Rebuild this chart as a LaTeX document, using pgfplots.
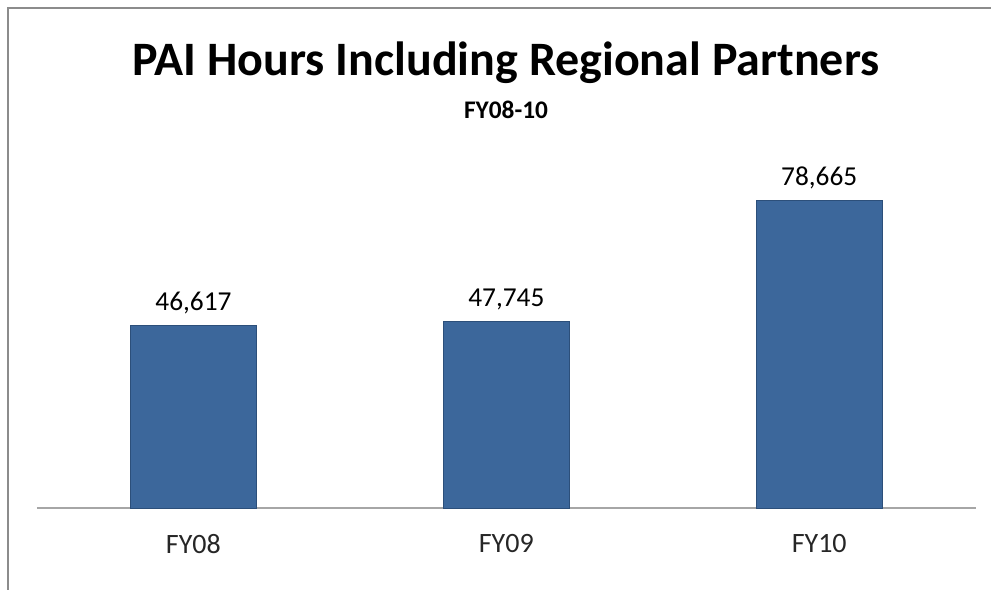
\documentclass[border=0pt]{standalone}
\usepackage{pgfplots}
\pgfplotsset{compat=1.18}
\usepackage{fontspec}
\setmainfont{Carlito}
\definecolor{barfill}{HTML}{3C679B}
\definecolor{baredge}{HTML}{2C4F7A}
\definecolor{framegray}{HTML}{8C8C8C}
\definecolor{axisgray}{HTML}{A6A6A6}

% picture is 991 x 589 px, 1 px = 0.75pt
\begin{document}
\begin{tikzpicture}
  \useasboundingbox (0,0) rectangle (743.25pt,441.75pt);
  % chart frame (only top and left edges are in view)
  \draw[framegray, line width=1.5pt] (6pt,-50pt) -- (6pt,435.75pt) -- (800pt,435.75pt);
  \node[font=\bfseries\fontsize{36}{40}\selectfont, anchor=center] at (379.5pt,394.5pt) {PAI Hours Including Regional Partners};
  \node[font=\bfseries\fontsize{19}{22}\selectfont, anchor=center] at (379.5pt,359.25pt) {FY08-10};
  \begin{axis}[
    at={(27.75pt,60.75pt)}, anchor=south west, scale only axis,
    width=704pt, height=264pt,
    ybar, bar width=94pt,
    xmin=-0.5, xmax=2.5, ymin=0, ymax=90000,
    xtick=data, xticklabels={FY08, FY09, FY10},
    ytick=\empty, major tick length=0pt,
    axis x line*=bottom, axis y line=none,
    x axis line style={axisgray, line width=0.9pt, -},
    tick label style={font=\fontsize{21}{24}\selectfont, text=black!85},
    xticklabel style={yshift=-16pt},
    nodes near coords,
    every node near coord/.append style={font=\fontsize{20.5}{24}\selectfont, yshift=5pt},
    /pgf/number format/.cd, fixed, 1000 sep={,}, assume math mode=true,
  ]
    \addplot[fill=barfill, draw=baredge, line width=0.6pt] coordinates {(0,46617) (1,47745) (2,78665)};
  \end{axis}
\end{tikzpicture}
\end{document}
